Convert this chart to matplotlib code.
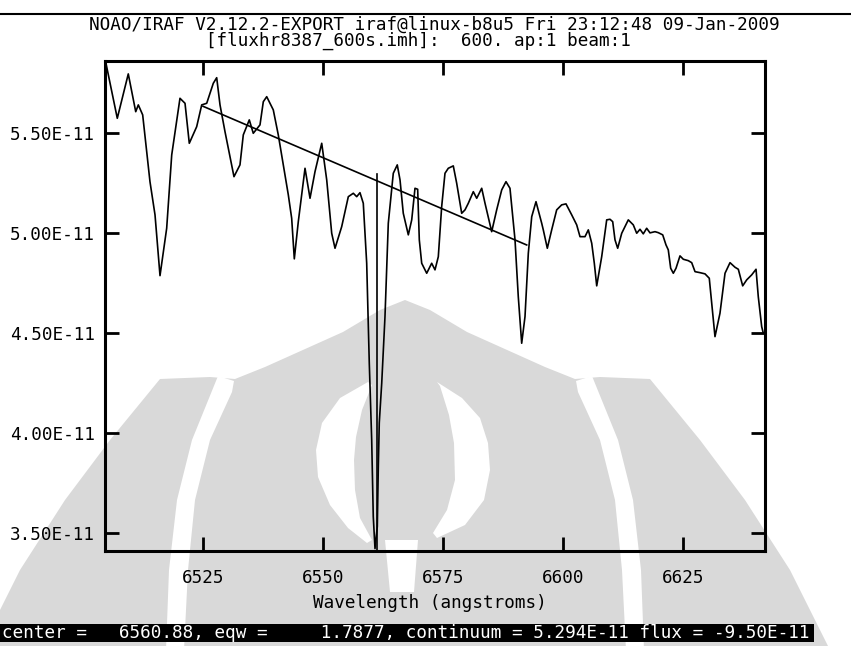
import matplotlib
matplotlib.use("Agg")
import matplotlib.pyplot as plt
from matplotlib.lines import Line2D
from matplotlib.patches import Rectangle, Polygon
from matplotlib.transforms import Affine2D

# ---- data (flux in units of 1E-11) ----
wavelength = [6504.8, 6507.16, 6509.45, 6511.0, 6511.54, 6512.45, 6513.97, 6515.02, 6516.06, 6517.45,
              6518.5, 6520.22, 6521.27, 6522.16, 6523.7, 6524.75, 6525.79, 6527.16, 6527.87, 6528.56,
              6529.6, 6531.47, 6532.72, 6533.41, 6534.66, 6535.49, 6536.89, 6537.58, 6538.29, 6539.66,
              6540.7, 6541.75, 6542.79, 6543.49, 6544.04, 6544.87, 6546.27, 6547.31, 6548.35, 6549.75,
              6550.79, 6551.83, 6552.52, 6553.91, 6555.29, 6556.33, 6557.04, 6557.72, 6558.41, 6559.12,
              6559.66, 6560.16, 6560.49, 6560.85, 6561.33, 6561.54, 6561.74, 6562.25, 6562.93, 6563.62,
              6564.66, 6565.49, 6566.06, 6566.74, 6567.79, 6568.5, 6569.18, 6569.74, 6570.08, 6570.58,
              6571.62, 6572.66, 6573.35, 6574.04, 6574.74, 6575.43, 6576.12, 6577.16, 6577.87, 6578.91,
              6579.6, 6580.29, 6581.33, 6582.04, 6583.08, 6583.77, 6585.16, 6586.2, 6587.25, 6588.14,
              6588.97, 6590.02, 6590.7, 6591.41, 6592.1, 6592.79, 6593.5, 6594.39, 6595.58, 6595.91,
              6596.75, 6597.66, 6598.7, 6599.74, 6600.64, 6601.83, 6602.87, 6603.56, 6604.6, 6605.29,
              6606.0, 6606.54, 6607.04, 6608.08, 6609.12, 6609.81, 6610.37, 6610.85, 6611.41, 6612.25,
              6613.62, 6614.66, 6615.37, 6616.06, 6616.74, 6617.45, 6618.14, 6619.18, 6619.87, 6620.79,
              6621.47, 6621.95, 6622.45, 6623.0, 6623.56, 6624.39, 6625.08, 6626.12, 6626.83, 6627.52,
              6628.56, 6629.6, 6630.49, 6630.99, 6631.68, 6632.72, 6633.77, 6634.81, 6635.85, 6636.54,
              6637.45, 6638.29, 6639.33, 6640.23, 6640.7, 6641.41, 6641.75]
flux = [5.847, 5.572, 5.794, 5.605, 5.639, 5.589, 5.255, 5.089, 4.785, 5.022,
        5.389, 5.672, 5.647, 5.447, 5.53, 5.639, 5.647, 5.747, 5.775, 5.639,
        5.505, 5.28, 5.339, 5.489, 5.564, 5.497, 5.539, 5.655, 5.68, 5.614,
        5.489, 5.339, 5.189, 5.072, 4.869, 5.055, 5.322, 5.172, 5.305, 5.447,
        5.264, 4.997, 4.922, 5.03, 5.18, 5.197, 5.18, 5.2, 5.147, 4.847,
        4.347, 3.964, 3.58, 3.42, 3.53, 3.83, 4.049, 4.247, 4.58, 5.047,
        5.297, 5.339, 5.264, 5.097, 4.989, 5.064, 5.222, 5.217, 4.964, 4.847,
        4.797, 4.847, 4.814, 4.88, 5.13, 5.297, 5.322, 5.334, 5.247, 5.097,
        5.114, 5.147, 5.205, 5.172, 5.222, 5.147, 5.005, 5.114, 5.214, 5.255,
        5.222, 4.964, 4.68, 4.447, 4.58, 4.897, 5.08, 5.155, 5.047, 5.014,
        4.922, 5.014, 5.114, 5.139, 5.144, 5.089, 5.039, 4.98, 4.98, 5.014,
        4.947, 4.847, 4.734, 4.88, 5.064, 5.067, 5.055, 4.964, 4.922, 4.997,
        5.064, 5.039, 4.997, 5.017, 4.994, 5.022, 4.999, 5.005, 5.0, 4.989,
        4.939, 4.914, 4.822, 4.797, 4.822, 4.884, 4.867, 4.86, 4.85, 4.805,
        4.8, 4.794, 4.772, 4.647, 4.48, 4.597, 4.797, 4.85, 4.827, 4.817,
        4.734, 4.764, 4.789, 4.817, 4.68, 4.53, 4.497]

continuum_wl = [6525.02, 6592.45]
continuum_flux = [5.632, 4.9385]
center_wl = 6561.2
center_top = 5.294

xticks = [6525, 6550, 6575, 6600, 6625]
xtick_labels = ["6525", "6550", "6575", "6600", "6625"]
yticks = [3.5, 4.0, 4.5, 5.0, 5.5]
ytick_labels = ["3.50E-11", "4.00E-11", "4.50E-11", "5.00E-11", "5.50E-11"]
xlim = (6504.6, 6642.1)
ylim = (3.408, 5.8585)

title1 = "NOAO/IRAF V2.12.2-EXPORT iraf@linux-b8u5 Fri 23:12:48 09-Jan-2009"
title2 = "[fluxhr8387_600s.imh]:  600. ap:1 beam:1"
xlabel = "Wavelength (angstroms)"
status = "center =   6560.88, eqw =     1.7877, continuum = 5.294E-11 flux = -9.50E-11"

MONO = "DejaVu Sans Mono"
FS = 12.7
W, H = 851, 646
WM_GRAY = "#d9d9d9"

fig = plt.figure(figsize=(W / 100, H / 100), dpi=100)
fig.patch.set_facecolor("white")

# ---- background watermark (light grey page logo), pixel coordinates from top-left ----
px = Affine2D().scale(1, -1).translate(0, H)


def wm(points, color, z):
    fig.add_artist(Polygon(points, closed=True, transform=px, facecolor=color,
                           edgecolor="none", zorder=z))


outer_right = [(405, 300), (430, 310), (467, 332), (545, 367), (575, 379), (600, 377),
               (650, 379), (700, 440), (745, 500), (790, 570), (830, 650)]
outer_left = [(810 - x, y) for (x, y) in outer_right[::-1]]
wm(outer_right + [(830, 650), (-20, 650)] + outer_left, WM_GRAY, -3)
# white arch gaps between the central dome and the side wings
gap_r = [(576, 381), (592, 376), (618, 440), (633, 500), (641, 570), (644, 650),
         (626, 650), (622, 570), (615, 500), (600, 440), (578, 392)]
wm(gap_r, "white", -2)
wm([(810 - x, y) for (x, y) in gap_r], "white", -2)
# white crescents around the central flame
cres_l = [(368, 382), (340, 398), (322, 423), (316, 450), (318, 477), (330, 505), (348, 528),
          (367, 543), (372, 540), (360, 518), (355, 490), (354, 460), (356, 437), (362, 410), (372, 385)]
cres_r = [(437, 382), (462, 398), (480, 418), (488, 443), (490, 470), (484, 500), (465, 525),
          (437, 538), (433, 533), (447, 510), (455, 480), (454, 443), (449, 415), (440, 386)]
wm(cres_l, "white", -2)
wm(cres_r, "white", -2)
wm([(385, 540), (418, 540), (414, 592), (390, 592)], "white", -2)

ax = fig.add_axes([105 / W, (H - 551) / H, 660 / W, 490 / H])
ax.set_facecolor("none")
ax.plot(wavelength, flux, color="black", lw=1.2)
ax.plot(continuum_wl, continuum_flux, color="black", lw=1.2)
ax.plot([center_wl, center_wl], [center_top, ylim[0]], color="black", lw=1.2)
ax.set_xlim(*xlim)
ax.set_ylim(*ylim)
ax.set_xticks(xticks)
ax.set_xticklabels(xtick_labels, family=MONO, fontsize=FS)
ax.set_yticks(yticks)
ax.set_yticklabels(ytick_labels, family=MONO, fontsize=FS)
ax.tick_params(direction="in", length=10, width=2, top=True, right=True)
ax.tick_params(axis="x", pad=13)
ax.tick_params(axis="y", pad=7)
for s in ax.spines.values():
    s.set_linewidth(2.2)

fig.add_artist(Line2D([0, 1], [1 - 14 / H, 1 - 14 / H], color="black", lw=1.5))
# two-line title as one text block; second line indented to sit where the reference has it
fig.text(434.5 / W, 1 - 16 / H, title1 + "\n" + " " * 11 + title2, ha="center", va="top",
         multialignment="left", linespacing=0.86, family=MONO, fontsize=FS)
fig.text(430 / W, 1 - 603 / H, xlabel, ha="center", va="center", family=MONO, fontsize=FS)

fig.add_artist(Rectangle((0, 1 - 642 / H), 814 / W, 18 / H, transform=fig.transFigure,
                         facecolor="black", edgecolor="none"))
fig.text(2 / W, 1 - 633 / H, status, ha="left", va="center", family=MONO, fontsize=FS, color="white")

fig.savefig("out.png", dpi=100)
